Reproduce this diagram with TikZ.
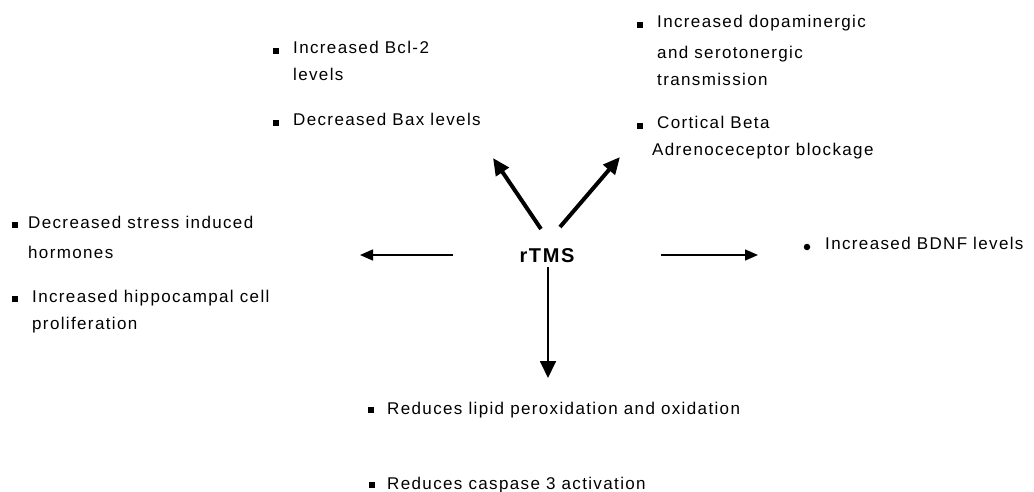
\documentclass[tikz,border=0pt]{standalone}
\usepackage{fontspec}
\setmainfont{Liberation Sans}
\usetikzlibrary{arrows.meta}
\begin{document}
\begin{tikzpicture}[x=1pt,y=-1pt,
  lbl/.style={anchor=base west, inner sep=0pt,
    font=\fontsize{17}{20}\selectfont\addfontfeature{LetterSpace=8}},
  bsq/.style={fill=black, draw=none, minimum size=6pt, inner sep=0pt, rectangle},
  bdot/.style={fill=black, draw=none, circle, minimum size=6.5pt, inner sep=0pt},
  harr/.style={line width=1.5pt, -{Triangle[length=13pt,width=11pt]}},
  varr/.style={line width=1.8pt, -{Triangle[length=17pt,width=16pt]}},
  boldarr/.style={line width=4pt, -{Triangle[length=17pt,width=15pt]}},
  ctr/.style={font=\fontsize{20}{23}\selectfont\bfseries\addfontfeature{LetterSpace=8}, inner sep=0pt}]
\path[use as bounding box] (0,0) rectangle (1034,492);

% centre
\node[ctr] (rtms) at (547,256) {rTMS};

% top-left group
\node[bsq] (b1) at (276,51) {};
\node[lbl] (t1a) at (293,54) {Increased Bcl-2};
\node[lbl] (t1b) at (293,81) {levels};
\node[bsq] (b2) at (276,123) {};
\node[lbl] (t2) at (293,126) {Decreased Bax levels};

% top-right group
\node[bsq] (b3) at (640,25) {};
\node[lbl] (t3a) at (657,28) {Increased dopaminergic};
\node[lbl] (t3b) at (657,59) {and serotonergic};
\node[lbl] (t3c) at (657,86) {transmission};
\node[bsq] (b4) at (640,126) {};
\node[lbl] (t4a) at (657,129) {Cortical Beta};
\node[lbl] (t4b) at (652,156) {Adrenoceceptor blockage};

% left group
\node[bsq] (b5) at (15,225) {};
\node[lbl] (t5a) at (28,228) {Decreased stress induced};
\node[lbl] (t5b) at (28,258) {hormones};
\node[bsq] (b6) at (15,299) {};
\node[lbl] (t6a) at (32,302) {Increased hippocampal cell};
\node[lbl] (t6b) at (32,329) {proliferation};

% right group
\node[bdot] (b7) at (807,247) {};
\node[lbl] (t7) at (825,249) {Increased BDNF levels};

% bottom group
\node[bsq] (b8) at (371,410) {};
\node[lbl] (t8) at (387,414) {Reduces lipid peroxidation and oxidation};
\node[bsq] (b9) at (372,485) {};
\node[lbl] (t9) at (387,489) {Reduces caspase 3 activation};

% arrow end points
\coordinate (lS) at (453,255);
\coordinate (lE) at (360,255);
\coordinate (rS) at (661,255);
\coordinate (rE) at (758,255);
\coordinate (ulS) at (541,229);
\coordinate (ulE) at (493,158);
\coordinate (urS) at (560,227);
\coordinate (urE) at (620,157);
\coordinate (dS) at (548,267);
\coordinate (dE) at (548,378);

\draw[harr] (lS) -- (lE);
\draw[harr] (rS) -- (rE);
\draw[boldarr] (ulS) -- (ulE);
\draw[boldarr] (urS) -- (urE);
\draw[varr] (dS) -- (dE);
\end{tikzpicture}
\end{document}
